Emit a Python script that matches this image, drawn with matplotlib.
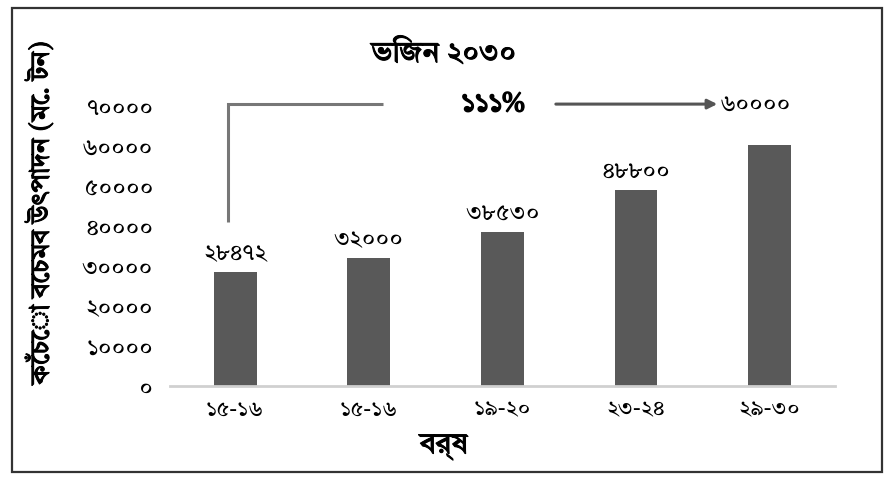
import matplotlib
matplotlib.use('Agg')
import matplotlib.pyplot as plt
import matplotlib.patheffects as pe
from matplotlib import font_manager
from matplotlib.patches import Rectangle

# bengali font
try:
    font_manager.fontManager.addfont('/usr/share/fonts/truetype/google-fonts/TiroBangla-Regular.ttf')
except Exception:
    pass
plt.rcParams['font.family'] = ['Tiro Bangla', 'DejaVu Sans']
heavy = [pe.withStroke(linewidth=0.7, foreground='black')]

categories = ['১৫-১৬', '১৫-১৬', '১৯-২০', '২৩-২৪', '২৯-৩০']
values = [28472, 32000, 38530, 48800, 60000]
value_labels = ['২৮৪৭২', '৩২০০০', '৩৮৫৩০', '৪৮৮০০', '৬০০০০']
yticks = [0, 10000, 20000, 30000, 40000, 50000, 60000, 70000]
ytick_labels = ['০', '১০০০০', '২০০০০', '৩০০০০', '৪০০০০', '৫০০০০', '৬০০০০', '৭০০০০']
growth = '১১১%'

fig = plt.figure(figsize=(8.93, 4.83), dpi=100)
ax = fig.add_axes([0.190, 0.2008, 0.745, 0.631])

x = range(len(categories))
ax.bar(x, values, width=0.32, color='#595959')

ax.set_xlim(-0.49, 4.49)
ax.set_ylim(0, 76000)
ax.set_xticks(list(x))
ax.set_xticklabels(categories, fontsize=16)
ax.set_yticks(yticks)
ax.set_yticklabels(ytick_labels, fontsize=17)
ax.tick_params(length=0, pad=12)
ax.tick_params(axis='x', pad=9)
for s in ['top', 'right', 'left']:
    ax.spines[s].set_visible(False)
ax.spines['bottom'].set_color('#d0d0d0')
ax.spines['bottom'].set_linewidth(2)

# value labels (last one sits at the arrow head)
for i in range(len(values) - 1):
    ax.text(i, values[i] + 1500, value_labels[i], ha='center', va='bottom', fontsize=17)
ax.text(3.63, 70300, value_labels[-1], ha='left', va='center', fontsize=17)

# growth bracket + arrow
ax.plot([-0.05, -0.05, 1.11], [40800, 70300, 70300], color='#777777', lw=2.2,
        solid_capstyle='butt', solid_joinstyle='miter')
ax.text(1.93, 70300, growth, ha='center', va='center', fontsize=20,
        path_effects=[pe.withStroke(linewidth=1.1, foreground='black')])
ax.annotate('', xy=(3.63, 70300), xytext=(2.38, 70300),
            arrowprops=dict(arrowstyle='-|>', color='#555555', lw=2.2, mutation_scale=14))

fig.text(0.497, 0.888, 'ভিজন ২০৩০', ha='center', va='center', fontsize=21, path_effects=heavy)
fig.text(0.497, 0.077, 'বর্ষ', ha='center', va='center', fontsize=21, path_effects=heavy)
fig.text(0.045, 0.56, 'কেঁচো বেচমব উৎপাদন (মে. টন)', ha='center', va='center',
         rotation=90, fontsize=19, path_effects=heavy)

fig.patches.append(Rectangle((0.013, 0.022), 0.975, 0.962, transform=fig.transFigure,
                             fill=False, edgecolor='#333333', lw=1.6))

fig.savefig('out.png')
